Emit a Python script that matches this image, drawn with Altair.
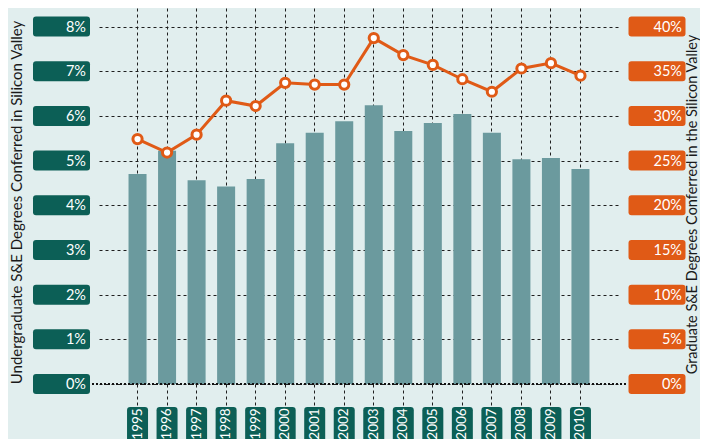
import altair as alt
import pandas as pd

years = [str(y) for y in range(1995, 2011)]
undergrad = [4.70, 5.22, 4.56, 4.42, 4.59, 5.39, 5.62, 5.88, 6.24, 5.66, 5.84, 6.04, 5.62, 5.03, 5.06, 4.81]
graduate = [27.4, 25.9, 27.9, 31.7, 31.1, 33.7, 33.5, 33.5, 38.7, 36.8, 35.7, 34.1, 32.7, 35.3, 35.9, 34.5]
left_ticks = [0, 1, 2, 3, 4, 5, 6, 7, 8]
left_labels = ["0%", "1%", "2%", "3%", "4%", "5%", "6%", "7%", "8%"]
right_ticks = [0, 5, 10, 15, 20, 25, 30, 35, 40]
right_labels = ["0%", "5%", "10%", "15%", "20%", "25%", "30%", "35%", "40%"]

TEAL = "#0c5f56"
ORANGE = "#e05a16"
BAR = "#6b9a9e"
BG = "#e1eeee"
GRID = "#1e1e1e"
FONT = "Lato"

W, H = 536, 376
LDOM = [0, 8.414]
RDOM = [0, 42.07]

df = pd.DataFrame({"year": years, "ug": undergrad, "grad": graduate})
ldf = pd.DataFrame({"v": left_ticks, "lab": left_labels})
rdf = pd.DataFrame({"v": right_ticks, "lab": right_labels})
zdf = pd.DataFrame({"v": [0]})

xscale = alt.Scale(paddingInner=0.39, paddingOuter=1, range=[7, 527])
lscale = alt.Scale(domain=LDOM, nice=False, zero=True)
rscale = alt.Scale(domain=RDOM, nice=False, zero=True)

xaxis = alt.Axis(grid=True, gridDash=[3, 3], gridColor=GRID, gridWidth=1,
                 labels=False, ticks=True, tickSize=23, tickDash=[3, 3],
                 tickColor=GRID, tickWidth=1, domain=False, bandPosition=0.5, title=None)
laxis = alt.Axis(values=left_ticks, grid=True, gridDash=[3, 3], gridColor=GRID,
                 gridWidth=1, labels=False, ticks=False, domain=False,
                 title="Undergraduate S&E Degrees Conferred in Silicon Valley",
                 titleAngle=270, titleX=-76, titleY=194, titleAlign="center",
                 titleBaseline="middle", titleFont=FONT, titleFontSize=15,
                 titleFontWeight="normal", titleColor="#1a1a1a")
raxis = alt.Axis(orient="right", values=right_ticks, labels=False, ticks=False, domain=False, grid=False,
                 title="Graduate S&E Degrees Conferred in the Silicon Valley",
                 titleAngle=270, titleX=64, titleY=196, titleAlign="center",
                 titleBaseline="middle", titleFont=FONT, titleFontSize=14.5,
                 titleFontWeight="normal", titleColor="#1a1a1a")

badge_h = "M-2.55,-1 L2.55,-1 Q2.85,-1 2.85,-0.7 L2.85,0.7 Q2.85,1 2.55,1 L-2.55,1 Q-2.85,1 -2.85,0.7 L-2.85,-0.7 Q-2.85,-1 -2.55,-1 Z"
badge_v = "M-0.7,-1.9 L0.7,-1.9 Q1,-1.9 1,-1.6 L1,1.6 Q1,1.9 0.7,1.9 L-0.7,1.9 Q-1,1.9 -1,1.6 L-1,-1.6 Q-1,-1.9 -0.7,-1.9 Z"

bars = alt.Chart(df).mark_bar(color=BAR).encode(
    x=alt.X("year:O", scale=xscale, axis=xaxis),
    y=alt.Y("ug:Q", scale=lscale, axis=laxis),
)

zero = alt.Chart(zdf).mark_rule(color="#111111", strokeDash=[2, 2], strokeWidth=2).encode(
    y=alt.Y("v:Q", scale=lscale, axis=laxis),
    x=alt.value(0), x2=alt.value(W),
)

lbadge = alt.Chart(ldf).mark_point(shape=badge_h, filled=True, fill=TEAL, size=400, opacity=1, strokeWidth=0).encode(
    y=alt.Y("v:Q", scale=lscale, axis=laxis),
    x=alt.value(-30.5),
)
ltext = alt.Chart(ldf).mark_text(align="right", baseline="middle", color="white", font=FONT, fontSize=14.5, dy=1).encode(
    y=alt.Y("v:Q", scale=lscale, axis=laxis),
    x=alt.value(-6),
    text="lab:N",
)

ybadge = alt.Chart(df).mark_point(shape=badge_v, filled=True, fill=TEAL, size=441, opacity=1, strokeWidth=0).encode(
    x=alt.X("year:O", scale=xscale, axis=xaxis),
    y=alt.value(419),
)
ytext = alt.Chart(df).mark_text(angle=270, align="center", baseline="middle", color="white", font=FONT, fontSize=13.5).encode(
    x=alt.X("year:O", scale=xscale, axis=xaxis),
    y=alt.value(416),
    text="year:O",
)

left = alt.layer(bars, zero, lbadge, ltext, ybadge, ytext)

line = alt.Chart(df).mark_line(color=ORANGE, strokeWidth=3).encode(
    x=alt.X("year:O", scale=xscale, axis=xaxis),
    y=alt.Y("grad:Q", scale=rscale, axis=raxis),
)
pts = alt.Chart(df).mark_point(shape="circle", filled=True, fill="white", stroke=ORANGE,
                               strokeWidth=3, size=85, opacity=1).encode(
    x=alt.X("year:O", scale=xscale, axis=xaxis),
    y=alt.Y("grad:Q", scale=rscale, axis=raxis),
)
rbadge = alt.Chart(rdf).mark_point(shape=badge_h, filled=True, fill=ORANGE, size=400, opacity=1, strokeWidth=0).encode(
    y=alt.Y("v:Q", scale=rscale, axis=raxis),
    x=alt.value(565),
)
rtext = alt.Chart(rdf).mark_text(align="right", baseline="middle", color="white", font=FONT, fontSize=14.5, dy=1).encode(
    y=alt.Y("v:Q", scale=rscale, axis=raxis),
    x=alt.value(590),
    text="lab:N",
)

right = alt.layer(line, pts, rbadge, rtext)

chart = alt.layer(left, right).resolve_scale(y="independent").properties(
    width=W, height=H,
    padding={"left": 84, "right": 72, "top": 0, "bottom": 55},
    autosize=alt.AutoSizeParams(type="none"),
).configure(background=BG).configure_view(stroke=None)

chart.save("out.html", embed_options={"renderer": "svg", "actions": False})
